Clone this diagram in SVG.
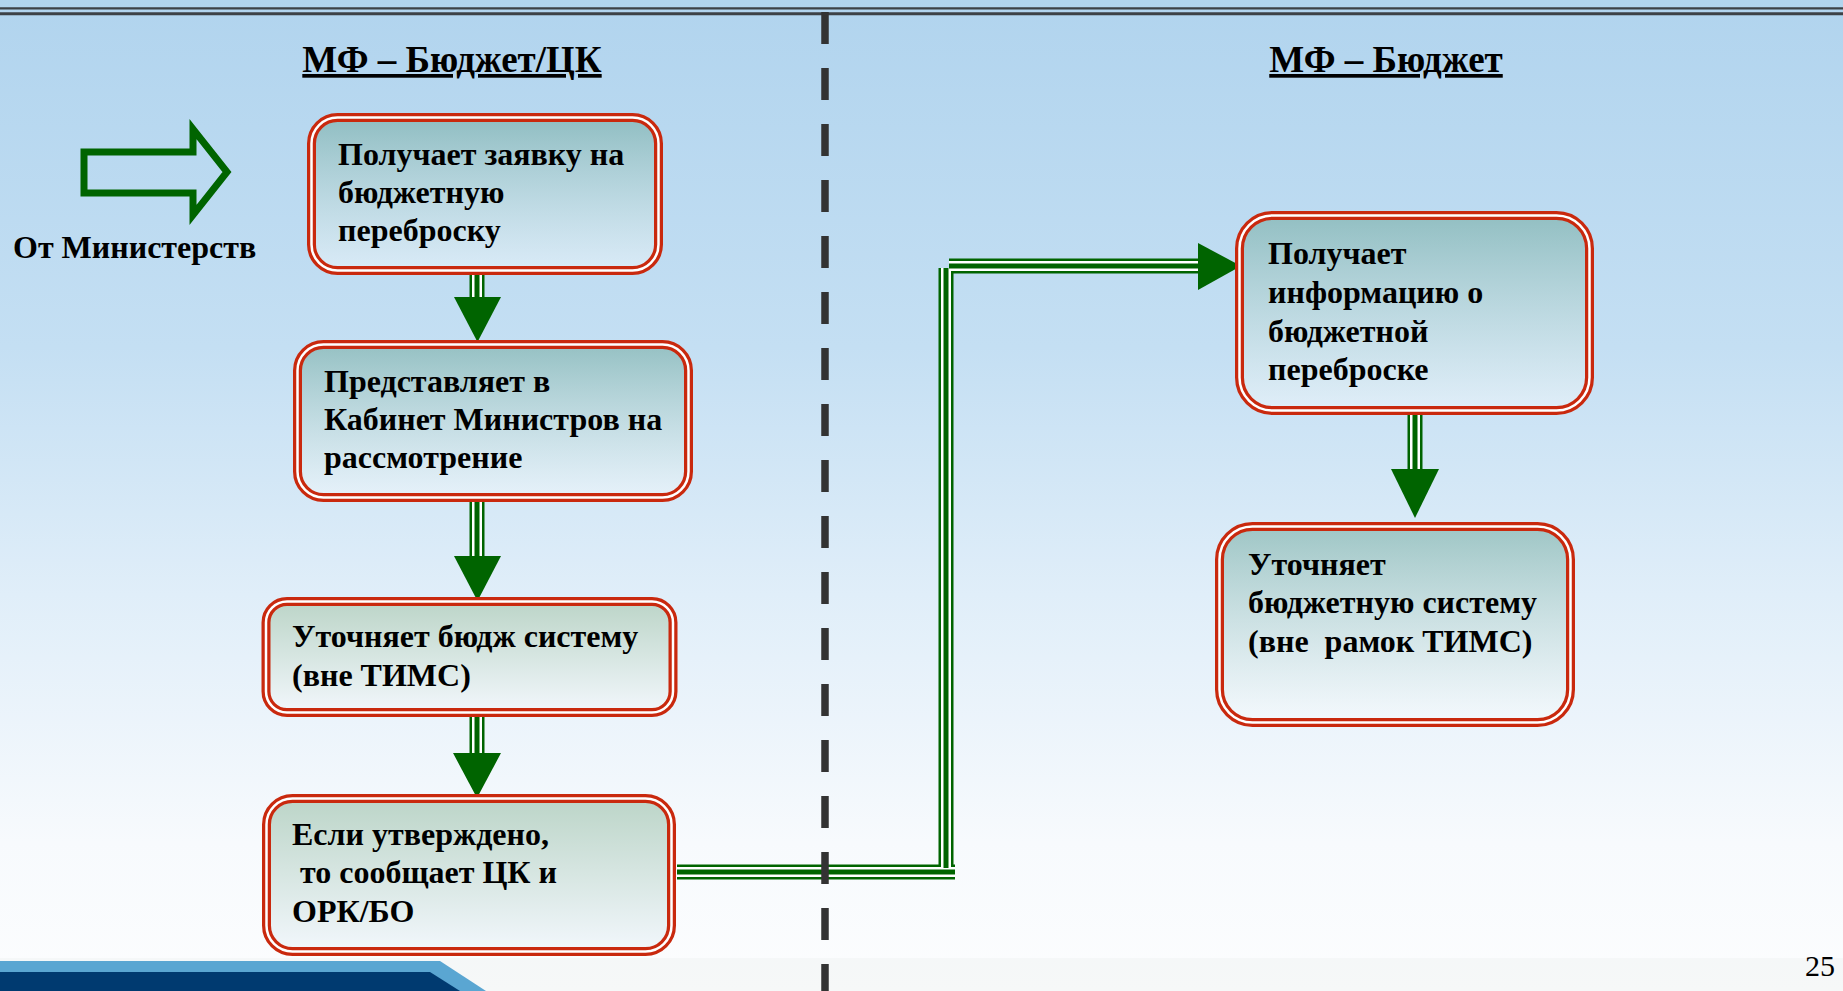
<svg xmlns="http://www.w3.org/2000/svg" width="1843" height="991" viewBox="0 0 1843 991">
<defs>
<linearGradient id="bg" x1="0" y1="0" x2="0" y2="1">
<stop offset="0" stop-color="#b1d4ee"/>
<stop offset="0.35" stop-color="#c4dff3"/>
<stop offset="0.6" stop-color="#e0eef9"/>
<stop offset="0.85" stop-color="#f7fafd"/>
<stop offset="1" stop-color="#fcfdfe"/>
</linearGradient>
<linearGradient id="boxfill" x1="0" y1="0" x2="0" y2="1">
<stop offset="0" stop-color="#6fa89c" stop-opacity="0.55"/>
<stop offset="1" stop-color="#ffffff" stop-opacity="0.4"/>
</linearGradient>
<linearGradient id="boxfill2" x1="0" y1="0" x2="0" y2="1">
<stop offset="0" stop-color="#bcd5c8"/>
<stop offset="1" stop-color="#f2f7fc"/>
</linearGradient>
<style>
.box{fill:url(#boxfill);stroke:#c9290e;stroke-width:9}
.box.light{fill:url(#boxfill2)}
.gap{fill:none;stroke:#ffffff;stroke-width:2.5}
.t{font-family:"Liberation Serif","Times New Roman",serif;font-weight:bold;font-size:32px;fill:#000}
.title{font-family:"Liberation Serif","Times New Roman",serif;font-weight:bold;font-size:37px;fill:#000;text-decoration:underline}
.l1{fill:none;stroke:#006400;stroke-width:15}
.l2{fill:none;stroke:#ffffff;stroke-width:10}
.l3{fill:none;stroke:#006400;stroke-width:5}
.head{fill:#006400}
</style>
</defs>
<rect x="0" y="0" width="1843" height="991" fill="url(#bg)"/>
<rect x="0" y="958" width="1843" height="33" fill="#eeeff0" opacity="0.4"/>
<polygon points="0,961 440,961 486,991 0,991" fill="#5aa6d2"/>
<polygon points="0,972 430,972 460,991 0,991" fill="#003a70"/>
<line x1="0" y1="8.3" x2="1843" y2="8.3" stroke="#3c4146" stroke-width="2.2"/>
<line x1="0" y1="13.8" x2="1843" y2="13.8" stroke="#3c4146" stroke-width="3"/>

<text class="title" x="452" y="72" text-anchor="middle">МФ – Бюджет/ЦК</text>
<text class="title" x="1386" y="72" text-anchor="middle">МФ – Бюджет</text>

<g id="from-ministries">
<polygon points="84,152 193,152 193,129 227,172 193,215 193,193 84,193" fill="none" stroke="#006400" stroke-width="7"/>
<text class="t" x="13" y="258">От Министерств</text>
</g>

<g id="connectors">
<path class="l1" d="M477,275 V298 M477,502 V557 M477,717 V754 M1415,415 V470 M677,872 H955 M946,268 V868 M949,266 H1200"/>
<path class="l2" d="M477,275 V298 M477,502 V557 M477,717 V754 M1415,415 V470 M677,872 H955 M946,268 V868 M949,266 H1200"/>
<path class="l3" d="M477,275 V298 M477,502 V557 M477,717 V754 M1415,415 V470 M677,872 H955 M946,268 V868 M949,266 H1200"/>
<polygon class="head" points="454,297 501,297 477.5,342"/>
<polygon class="head" points="454,556 501,556 477.5,601"/>
<polygon class="head" points="453,753 501,753 477,798"/>
<polygon class="head" points="1391,469 1439,469 1415,518"/>
<polygon class="head" points="1198,243 1198,290 1241,266"/>
</g>

<g id="box1">
<rect class="box" x="311.5" y="117.5" width="347" height="153" rx="26"/>
<rect class="gap" x="311.5" y="117.5" width="347" height="153" rx="26"/>
<text class="t"><tspan x="338" y="165">Получает заявку на</tspan><tspan x="338" y="203">бюджетную</tspan><tspan x="338" y="241">переброску</tspan></text>
</g>

<g id="box2">
<rect class="box" x="297.5" y="344.5" width="391" height="153" rx="26"/>
<rect class="gap" x="297.5" y="344.5" width="391" height="153" rx="26"/>
<text class="t"><tspan x="324" y="392">Представляет в</tspan><tspan x="324" y="430">Кабинет Министров на</tspan><tspan x="324" y="468">рассмотрение</tspan></text>
</g>

<g id="box3">
<rect class="box light" x="266" y="601.5" width="407" height="111" rx="21"/>
<rect class="gap" x="266" y="601.5" width="407" height="111" rx="21"/>
<text class="t"><tspan x="292" y="647">Уточняет бюдж систему</tspan><tspan x="292" y="686">(вне ТИМС)</tspan></text>
</g>

<g id="box4">
<rect class="box light" x="266.5" y="798.5" width="405" height="153" rx="26"/>
<rect class="gap" x="266.5" y="798.5" width="405" height="153" rx="26"/>
<text class="t" xml:space="preserve"><tspan x="292" y="845">Если утверждено,</tspan><tspan x="292" y="883"> то сообщает ЦК и</tspan><tspan x="292" y="922">ОРК/БО</tspan></text>
</g>

<g id="box5">
<rect class="box" x="1239.5" y="215.5" width="350" height="195" rx="33"/>
<rect class="gap" x="1239.5" y="215.5" width="350" height="195" rx="33"/>
<text class="t"><tspan x="1268" y="264">Получает</tspan><tspan x="1268" y="303">информацию о</tspan><tspan x="1268" y="342">бюджетной</tspan><tspan x="1268" y="380">переброске</tspan></text>
</g>

<g id="box6">
<rect class="box" x="1219.5" y="526.5" width="351" height="196" rx="33"/>
<rect class="gap" x="1219.5" y="526.5" width="351" height="196" rx="33"/>
<text class="t" xml:space="preserve"><tspan x="1248" y="575">Уточняет</tspan><tspan x="1248" y="613">бюджетную систему</tspan><tspan x="1248" y="652">(вне  рамок ТИМС)</tspan></text>
</g>

<line x1="825" y1="12" x2="825" y2="991" stroke="#333333" stroke-width="7.5" stroke-dasharray="32 24"/>

<text x="1805" y="976" font-family="Liberation Serif, Times New Roman, serif" font-size="30" fill="#000">25</text>
</svg>
